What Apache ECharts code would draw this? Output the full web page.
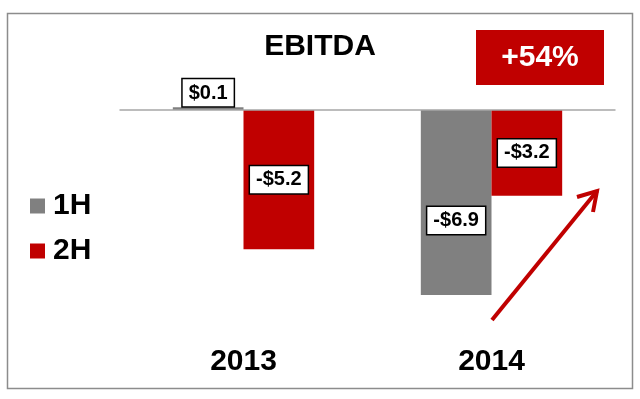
<!DOCTYPE html>
<html>
<head>
<meta charset="utf-8">
<script src="https://cdn.jsdelivr.net/npm/echarts@6/dist/echarts.min.js"></script>
<style>
html,body{margin:0;padding:0;background:#fff;}
#main{width:640px;height:399px;}
</style>
</head>
<body>
<div id="main"></div>
<script>
// data
var years = ['2013', '2014']
var h1 = [0.1, -6.9]
var h2 = [-5.2, -3.2]
var h1_labels = ['$0.1', '-$6.9']
var h2_labels = ['-$5.2', '-$3.2']
var growth = '+54%'

var GRAY = '#808080'
var RED = '#C00000'
var FONT = '"Liberation Sans", Arial, sans-serif'

var box_label = {
    show: true,
    color: '#000',
    fontFamily: FONT,
    fontWeight: 'bold',
    fontSize: 20,
    backgroundColor: '#fff',
    borderColor: '#000',
    borderWidth: 1.5,
    padding: [4, 6, 3, 6]
}

function build_data(vals, labels){
    var out = []
    for (var i = 0; i < vals.length; i++){
        var lbl = Object.assign({}, box_label, {formatter: labels[i]})
        if (vals[i] > 0){
            lbl.position = 'top'
            lbl.distance = 1
        } else {
            lbl.position = 'inside'
            if (vals[i] < -6) lbl.offset = [0, 18]
        }
        out.push({value: vals[i], label: lbl})
    }
    return out
}

var chartDom = document.getElementById('main')
var myChart = echarts.init(chartDom)

// arrow (annotation)
var ax0 = 492, ay0 = 320, ax1 = 597, ay1 = 191

var option = {
    animation: false,
    backgroundColor: '#fff',
    title: {
        text: 'EBITDA',
        left: 'center',
        top: 27,
        textStyle: {fontFamily: FONT, fontWeight: 'bold', fontSize: 30, color: '#000'}
    },
    legend: {
        orient: 'vertical',
        left: 30,
        top: 191,
        padding: 0,
        itemWidth: 15,
        itemHeight: 15,
        itemGap: 15,
        icon: 'rect',
        selectedMode: false,
        textStyle: {fontFamily: FONT, fontWeight: 'bold', fontSize: 30, color: '#000', lineHeight: 30, padding: [0, 0, 0, 3]},
        data: ['1H', '2H']
    },
    grid: {left: 119.5, width: 496, top: 83.2, height: 241.2},
    xAxis: {
        type: 'category',
        data: years,
        axisLine: {show: false, onZero: false},
        axisTick: {show: false},
        axisLabel: {
            margin: 22,
            fontFamily: FONT, fontWeight: 'bold', fontSize: 30, color: '#000'
        }
    },
    yAxis: {
        type: 'value',
        min: -8,
        max: 1,
        show: false,
        splitLine: {show: false}
    },
    series: [
        {
            name: '1H',
            type: 'bar',
            barGap: '0%',
            barCategoryGap: '43%',
            itemStyle: {color: GRAY},
            data: build_data(h1, h1_labels),
            markLine: {
                silent: true,
                symbol: 'none',
                label: {show: false},
                lineStyle: {color: '#a6a6a6', width: 1.5, type: 'solid'},
                data: [{yAxis: 0}]
            }
        },
        {
            name: '2H',
            type: 'bar',
            barGap: '0%',
            barCategoryGap: '43%',
            itemStyle: {color: RED},
            data: build_data(h2, h2_labels)
        }
    ],
    graphic: [
        {
            type: 'rect',
            shape: {x: 7.5, y: 13.5, width: 625, height: 375},
            style: {fill: null, stroke: '#8c8c8c', lineWidth: 1.5},
            silent: true
        },
        {
            type: 'rect',
            shape: {x: 476, y: 30, width: 128, height: 55},
            style: {fill: RED},
            z: 10
        },
        {
            type: 'text',
            x: 540,
            y: 57.5,
            style: {
                text: growth,
                fill: '#fff',
                font: 'bold 30px ' + FONT,
                align: 'center',
                verticalAlign: 'middle'
            },
            z: 11
        },
        {
            type: 'line',
            shape: {x1: ax0, y1: ay0, x2: ax1, y2: ay1},
            style: {stroke: RED, lineWidth: 4}
        },
        {
            type: 'polyline',
            shape: {points: [[ax1 - 20, ay1 + 6], [ax1, ay1], [ax1 - 4, ay1 + 21]]},
            style: {stroke: RED, lineWidth: 4, fill: null}
        }
    ]
}
option && myChart.setOption(option)
</script>
</body>
</html>
